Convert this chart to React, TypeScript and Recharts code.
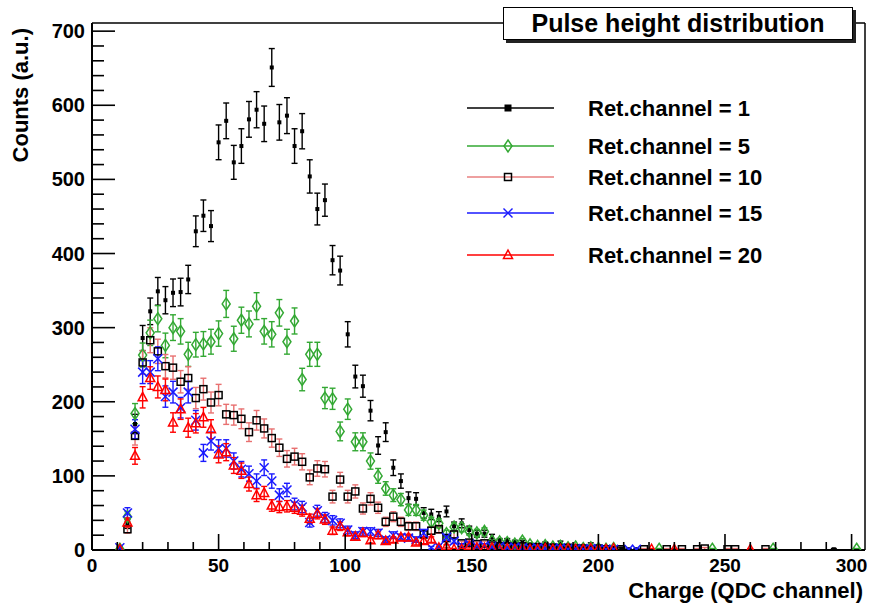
import React from "react";
import {
  ScatterChart,
  Scatter,
  XAxis,
  YAxis,
  ErrorBar,
  ReferenceLine,
  Legend,
} from "recharts";

// bin centres (QDC channel)
const charge = [
  11, 14, 17, 20, 23, 26, 29, 32, 35, 38,
  41, 44, 47, 50, 53, 56, 59, 62, 65, 68,
  71, 74, 77, 80, 83, 86, 89, 92, 95, 98,
  101, 104, 107, 110, 113, 116, 119, 122, 125, 128,
  131, 134, 137, 140, 143, 146, 149, 152, 155, 158,
  161, 164, 167, 170, 173, 176, 179, 182, 185, 188,
  191, 194, 197, 200, 203, 206, 209, 212, 215, 218,
  221, 224, 227, 230, 233, 236, 239, 242, 245, 248,
  251, 254, 257, 260, 263, 266, 269, 272, 275, 278,
  281, 284, 287, 290, 293, 296, 299, 302,
];

const ret1 = [
  2, 35, 170, 286, 322, 349, 337, 347, 348, 365,
  430, 451, 437, 550, 579, 523, 545, 581, 594, 575,
  651, 577, 586, 545, 565, 504, 460, 472, 391, 377,
  291, 234, 221, 188, 141, 159, 111, 93, 70, 69,
  50, 48, 45, 52, 32, 36, 27, 22, 22, 17,
  12, 12, 10, 10, 7, 6, 8, 6, 9, 4,
  4, 3, 7, 3, 2, 3, 2, 1, 1, null,
  null, null, null, null, null, null, null, null, null, null,
  null, null, null, null, null, null, null, null, null, null,
  null, null, null, null, 1, null, null, null,
];

const ret5 = [
  1, 45, 184, 263, 293, 312, 276, 300, 295, 264,
  277, 278, 281, 292, 332, 285, 310, 305, 329, 295,
  291, 320, 281, 309, 230, 264, 264, 205, 204, 160,
  190, 146, 146, 120, 100, 83, 74, 68, 54, 54,
  47, 38, 36, 22, 31, 30, 25, 23, 25, 12,
  11, 10, 8, 12, 7, 5, 6, 4, 5, 3,
  4, 2, 3, 2, 1, 2, null, null, null, null,
  null, 1, null, null, null, null, null, null, 1, null,
  null, null, null, null, null, null, 1, null, null, null,
  null, null, null, null, null, null, null, 1,
];

const ret10 = [
  null, 28, 154, 253, 283, 268, 248, 246, 227, 232,
  205, 217, 199, 209, 183, 182, 177, 159, 175, 164,
  151, 138, 123, 126, 119, 98, 110, 109, 72, 95,
  72, 79, 56, 69, 57, 38, 45, 38, 32, 32,
  21, 26, 28, 16, 21, 9, 10, 8, 9, 6,
  5, 5, 4, 5, 3, 4, 2, 3, 2, 3,
  2, 2, 1, 2, 1, null, 1, null, null, 1,
  null, null, 1, null, 1, null, 1, 2, null, null,
  1, 1, null, null, null, 1, null, null, null, null,
  null, null, null, null, null, null, null, null,
];

const ret15 = [
  3, 50, 163, 240, 240, 258, 207, 213, 192, 213,
  175, 131, 147, 137, 137, 120, 109, 103, 93, 111,
  93, 74, 81, 62, 58, 37, 53, 44, 40, 36,
  27, 20, 25, 25, 23, 14, 20, 17, 16, 14,
  23, 3, 5, 17, 12, 6, 8, 5, 6, 4,
  5, 3, 4, 3, 2, 3, 2, 2, 3, 1,
  2, 1, 2, 1, 1, 1, null, 1, 1, null,
  null, null, null, null, null, null, null, null, null, null,
  null, null, null, null, null, null, null, null, null, null,
  null, null, null, null, null, null, null, null,
];

const ret20 = [
  1, 37, 127, 206, 232, 220, 216, 172, 190, 165,
  171, 179, 163, 129, 132, 114, 107, 89, 74, 77,
  60, 58, 59, 57, 53, 42, 49, 41, 26, 32,
  24, 18, 23, 13, 20, 12, 14, 17, 17, 10,
  12, 14, 3, 5, 1, 1, 5, 3, 2, 3,
  1, 2, 1, 2, 1, 1, 2, 1, 1, 2,
  1, 1, 2, 1, 1, 2, null, null, null, null,
  1, null, null, 1, null, null, null, null, null, null,
  null, null, null, 1, null, null, null, null, null, null,
  null, null, null, null, null, null, null, null,
];

const xTicks = [0, 10, 20, 30, 40, 50, 60, 70, 80, 90, 100, 110, 120, 130, 140, 150, 160, 170, 180, 190, 200, 210, 220, 230, 240, 250, 260, 270, 280, 290, 300];
const xLabels = [0, 50, 100, 150, 200, 250, 300];
const yTicks = [0, 20, 40, 60, 80, 100, 120, 140, 160, 180, 200, 220, 240, 260, 280, 300, 320, 340, 360, 380, 400, 420, 440, 460, 480, 500, 520, 540, 560, 580, 600, 620, 640, 660, 680, 700];
const yLabels = [0, 100, 200, 300, 400, 500, 600, 700];

const FONT = "'Liberation Sans', Arial, Helvetica, sans-serif";
const X_MAX = 305.3;
const Y_MAX = 711;

function toPoints(values: (number | null)[]) {
  const out: { x: number; y: number; err: number }[] = [];
  values.forEach((v, i) => {
    if (v == null) return;
    out.push({ x: charge[i], y: v, err: Math.sqrt(v) });
  });
  return out;
}

// markers
const FilledSquare = ({ cx, cy, big }: any) => {
  const h = big ? 3.5 : 2;
  return <rect x={cx - h} y={cy - h} width={2 * h} height={2 * h} fill="#000" />;
};
const Diamond = ({ cx, cy }: any) => (
  <polygon
    points={`${cx},${cy - 6} ${cx + 4},${cy} ${cx},${cy + 6} ${cx - 4},${cy}`}
    fill="none"
    stroke="#33a833"
    strokeWidth={1.5}
  />
);
const OpenSquare = ({ cx, cy }: any) => (
  <rect x={cx - 3.5} y={cy - 3.5} width={7} height={7} fill="none" stroke="#000" strokeWidth={1.5} />
);
const Cross = ({ cx, cy }: any) => (
  <g stroke="#1a1aff" strokeWidth={1.5}>
    <line x1={cx - 4.5} y1={cy - 4.5} x2={cx + 4.5} y2={cy + 4.5} />
    <line x1={cx - 4.5} y1={cy + 4.5} x2={cx + 4.5} y2={cy - 4.5} />
  </g>
);
const Triangle = ({ cx, cy }: any) => (
  <polygon
    points={`${cx},${cy - 5} ${cx + 4.5},${cy + 3.5} ${cx - 4.5},${cy + 3.5}`}
    fill="none"
    stroke="#ff0000"
    strokeWidth={1.5}
  />
);

const series = [
  { name: "Ret.channel = 1", values: ret1, Marker: FilledSquare, line: "#000000", bar: "#000000" },
  { name: "Ret.channel = 5", values: ret5, Marker: Diamond, line: "#33a833", bar: "#33a833" },
  { name: "Ret.channel = 10", values: ret10, Marker: OpenSquare, line: "#e88080", bar: "#e87070" },
  { name: "Ret.channel = 15", values: ret15, Marker: Cross, line: "#1a1aff", bar: "#1a1aff" },
  { name: "Ret.channel = 20", values: ret20, Marker: Triangle, line: "#ff0000", bar: "#ff0000" },
];

const legendRows = [23, 61, 92, 128, 170];

const XTick = ({ x, y, payload }: any) => {
  const major = xLabels.includes(payload.value);
  return (
    <g>
      <line x1={x} x2={x} y1={y} y2={y - (major ? 16 : 8)} stroke="#000" strokeWidth={1.6} />
      {major && (
        <text x={x} y={y + 22} textAnchor="middle" fontFamily={FONT} fontWeight="bold" fontSize={19} fill="#000">
          {payload.value}
        </text>
      )}
    </g>
  );
};

const YTick = ({ x, y, payload }: any) => {
  const major = yLabels.includes(payload.value);
  return (
    <g>
      <line x1={x} x2={x + (major ? 23 : 12)} y1={y} y2={y} stroke="#000" strokeWidth={1.6} />
      {major && (
        <text x={x - 7} y={y + 7} textAnchor="end" fontFamily={FONT} fontWeight="bold" fontSize={20} fill="#000">
          {payload.value}
        </text>
      )}
    </g>
  );
};

const LegendBox = () => (
  <svg width={400} height={200} style={{ overflow: "visible" }}>
    {series.map((s, i) => {
      const cy = legendRows[i];
      return (
        <g key={s.name}>
          <line x1={7} x2={94} y1={cy} y2={cy} stroke={s.line} strokeWidth={1.3} />
          <s.Marker cx={48} cy={cy} big />
          <text x={128} y={cy + 8} fontFamily={FONT} fontWeight="bold" fontSize={22} fill="#000">
            {s.name}
          </text>
        </g>
      );
    })}
  </svg>
);

export default function App() {
  return (
    <div style={{ position: "absolute", left: 0, top: 0, width: 873, height: 605, background: "#fff" }}>
      <ScatterChart width={873} height={605} margin={{ top: 23, right: 8, bottom: 0, left: 0 }}>
        <XAxis
          type="number"
          dataKey="x"
          domain={[0, X_MAX]}
          allowDataOverflow
          ticks={xTicks}
          interval={0}
          tickSize={0}
          tickMargin={0}
          tickLine={false}
          tick={(p: any) => <XTick {...p} />}
          axisLine={{ stroke: "#000", strokeWidth: 2 }}
          height={55}
          label={{
            content: (p: any) => (
              <text
                x={p.viewBox.x + p.viewBox.width - 2}
                y={p.viewBox.y + 48}
                textAnchor="end"
                fontFamily={FONT}
                fontWeight="bold"
                fontSize={22}
                fill="#000"
              >
                Charge (QDC channel)
              </text>
            ),
          }}
        />
        <YAxis
          type="number"
          dataKey="y"
          domain={[0, Y_MAX]}
          allowDataOverflow
          ticks={yTicks}
          interval={0}
          tickSize={0}
          tickMargin={0}
          tickLine={false}
          tick={(p: any) => <YTick {...p} />}
          axisLine={{ stroke: "#000", strokeWidth: 2 }}
          width={92}
          label={{
            content: (p: any) => (
              <text
                x={28}
                y={p.viewBox.y + 5}
                transform={`rotate(-90 28 ${p.viewBox.y + 5})`}
                textAnchor="end"
                fontFamily={FONT}
                fontWeight="bold"
                fontSize={22}
                fill="#000"
              >
                Counts (a.u.)
              </text>
            ),
          }}
        />
        <ReferenceLine y={Y_MAX} stroke="#000" strokeWidth={1.5} />
        <ReferenceLine x={X_MAX} stroke="#000" strokeWidth={1.5} />
        {series.map((s) => (
          <Scatter
            key={s.name}
            name={s.name}
            data={toPoints(s.values)}
            isAnimationActive={false}
            shape={(p: any) => <s.Marker cx={p.cx} cy={p.cy} />}
          >
            <ErrorBar dataKey="err" direction="y" width={3} stroke={s.bar} strokeWidth={1.4} isAnimationActive={false} />
          </Scatter>
        ))}
        <Legend
          layout="horizontal"
          verticalAlign="middle"
          align="center"
          content={() => <LegendBox />}
          wrapperStyle={{ position: "absolute", left: 460, top: 85, width: 400, height: 200 }}
        />
      </ScatterChart>
      <div
        style={{
          position: "absolute",
          left: 503,
          top: 7,
          width: 348,
          height: 31,
          border: "1.5px solid #000",
          background: "#fff",
          boxShadow: "3px 3px 0 #222",
          fontFamily: FONT,
          fontWeight: "bold",
          fontSize: 25,
          lineHeight: "31px",
          textAlign: "center",
        }}
      >
        Pulse height distribution
      </div>
    </div>
  );
}
